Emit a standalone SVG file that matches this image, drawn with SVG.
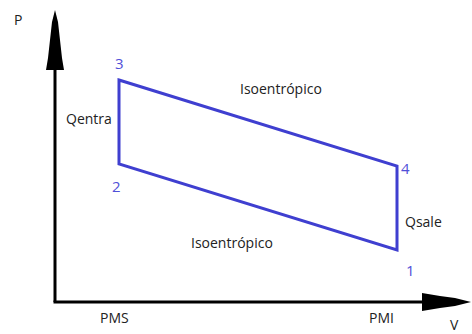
<svg xmlns="http://www.w3.org/2000/svg" width="472" height="334" viewBox="0 0 472 334">
  <style>
    .lbl { font-family: "Open Sans", "Liberation Sans", sans-serif; font-size: 14px; fill: #222; }
    .num { font-family: "Open Sans", "Liberation Sans", sans-serif; font-size: 15px; fill: #5050d8; }
    .axis { stroke: #000; stroke-width: 3; fill: none; }
    .cycle { stroke: #3f3fd0; stroke-width: 3; fill: none; stroke-linejoin: miter; }
  </style>
  <rect width="472" height="334" fill="#fff"/>
  <g id="axes">
    <line class="axis" x1="55" y1="302" x2="55" y2="60"/>
    <polygon points="55,10 58,22 60,40 62,58 64,70 46,70 48,58 50,40 52,22" fill="#000"/>
    <line class="axis" x1="53.5" y1="302" x2="430" y2="302"/>
    <polygon points="471,302 455,298 440,296 422,293 422,311 440,308 455,306" fill="#000"/>
    <text class="lbl" x="14" y="25">P</text>
    <text class="lbl" x="450" y="330">V</text>
    <text class="lbl" x="100" y="323">PMS</text>
    <text class="lbl" x="369" y="323">PMI</text>
  </g>
  <g id="cycle">
    <polygon class="cycle" points="119,80 397,166 397,250 119,164"/>
  </g>
  <g id="p1"><text class="num" x="406" y="276">1</text></g>
  <g id="p2"><text class="num" x="112" y="192">2</text></g>
  <g id="p3"><text class="num" x="115" y="69">3</text></g>
  <g id="p4"><text class="num" x="401" y="174">4</text></g>
  <g id="qentra"><text class="lbl" x="66" y="124" font-size="12">Qentra</text></g>
  <g id="qsale"><text class="lbl" x="405" y="227" font-size="12">Qsale</text></g>
  <g id="iso-top"><text class="lbl" x="240" y="94" font-size="15">Isoentrópico</text></g>
  <g id="iso-bottom"><text class="lbl" x="191" y="248" font-size="15">Isoentrópico</text></g>
</svg>
